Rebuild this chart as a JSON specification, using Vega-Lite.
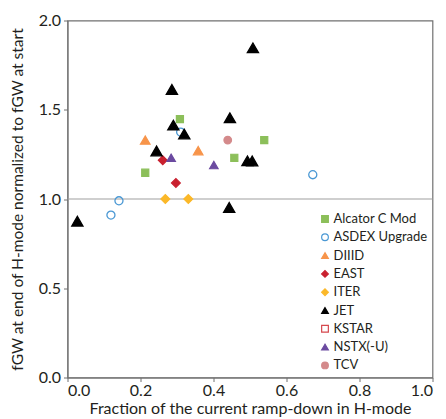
{
  "$schema": "https://vega.github.io/schema/vega-lite/v6.json",
  "autosize": {"type": "none"},
  "padding": {"left": 67.5, "top": 20.5, "right": 13.5, "bottom": 41.5},
  "width": 365,
  "height": 357,
  "config": {
    "view": {"stroke": "#707070", "strokeWidth": 1.2},
    "font": "Lato",
    "axis": {"domainColor": "#707070", "tickColor": "#707070", "labelColor": "#231f20", "titleColor": "#231f20", "labelFont": "Lato", "titleFont": "Lato", "labelFontWeight": "normal", "titleFontWeight": "normal", "grid": false},
    "legend": {"orient": "bottom-right", "offset": 5, "symbolSize": 45, "labelFontSize": 13, "labelFont": "Lato", "labelColor": "#231f20", "rowPadding": 4.3, "labelOffset": 2, "symbolStrokeWidth": 1.2}
  },
  "datasets": {
    "points": [
      {"device": "Alcator C Mod", "x": 0.308, "y": 1.448},
      {"device": "Alcator C Mod", "x": 0.539, "y": 1.330},
      {"device": "Alcator C Mod", "x": 0.457, "y": 1.231},
      {"device": "Alcator C Mod", "x": 0.213, "y": 1.147},
      {"device": "ASDEX Upgrade", "x": 0.310, "y": 1.375},
      {"device": "ASDEX Upgrade", "x": 0.141, "y": 0.990},
      {"device": "ASDEX Upgrade", "x": 0.119, "y": 0.910},
      {"device": "ASDEX Upgrade", "x": 0.672, "y": 1.136},
      {"device": "DIIID", "x": 0.213, "y": 1.330},
      {"device": "DIIID", "x": 0.358, "y": 1.271},
      {"device": "EAST", "x": 0.261, "y": 1.217},
      {"device": "EAST", "x": 0.297, "y": 1.090},
      {"device": "ITER", "x": 0.268, "y": 1.0},
      {"device": "ITER", "x": 0.331, "y": 1.0},
      {"device": "JET", "x": 0.508, "y": 1.847},
      {"device": "JET", "x": 0.286, "y": 1.614},
      {"device": "JET", "x": 0.445, "y": 1.455},
      {"device": "JET", "x": 0.290, "y": 1.414},
      {"device": "JET", "x": 0.320, "y": 1.364},
      {"device": "JET", "x": 0.244, "y": 1.269},
      {"device": "JET", "x": 0.493, "y": 1.214},
      {"device": "JET", "x": 0.506, "y": 1.213},
      {"device": "JET", "x": 0.443, "y": 0.953},
      {"device": "JET", "x": 0.027, "y": 0.876},
      {"device": "NSTX(-U)", "x": 0.284, "y": 1.231},
      {"device": "NSTX(-U)", "x": 0.401, "y": 1.190},
      {"device": "TCV", "x": 0.439, "y": 1.330}
    ]
  },
  "layer": [
    {
      "data": {"values": [{"y": 1.0}]},
      "mark": {"type": "rule", "color": "#a0a0a0", "strokeWidth": 1.2},
      "encoding": {"y": {"field": "y", "type": "quantitative", "scale": {"domain": [0, 2]}}}
    },
    {
      "data": {"name": "points"},
      "encoding": {
        "x": {"field": "x", "type": "quantitative", "scale": {"domain": [0, 1]},
          "axis": {"values": [0, 0.2, 0.4, 0.6, 0.8, 1.0], "format": ".1f", "labelFontSize": 16, "tickSize": 4, "labelPadding": 1, "title": "Fraction of the current ramp-down in H-mode", "titleFontSize": 16, "titlePadding": 2}},
        "y": {"field": "y", "type": "quantitative", "scale": {"domain": [0, 2]},
          "axis": {"values": [0, 0.5, 1.0, 1.5, 2.0], "format": ".1f", "labelFontSize": 16, "tickSize": 4, "labelPadding": 3, "title": "fGW at end of H-mode normalized to fGW at start", "titleFontSize": 15.5, "titlePadding": 13}},
        "shape": {"field": "device", "type": "nominal",
          "scale": {"domain": ["Alcator C Mod", "ASDEX Upgrade", "DIIID", "EAST", "ITER", "JET", "KSTAR", "NSTX(-U)", "TCV"],
            "range": ["square", "circle", "triangle-up", "diamond", "diamond", "triangle-up", "square", "triangle-up", "circle"]},
          "legend": {"title": null}},
        "fill": {"field": "device", "type": "nominal",
          "scale": {"domain": ["Alcator C Mod", "ASDEX Upgrade", "DIIID", "EAST", "ITER", "JET", "KSTAR", "NSTX(-U)", "TCV"],
            "range": ["#8cbf5a", "transparent", "#f7944a", "#c9202f", "#fbb829", "#000000", "transparent", "#6b4aa0", "#d48a8b"]},
          "legend": {"title": null}},
        "stroke": {"field": "device", "type": "nominal",
          "scale": {"domain": ["Alcator C Mod", "ASDEX Upgrade", "DIIID", "EAST", "ITER", "JET", "KSTAR", "NSTX(-U)", "TCV"],
            "range": ["#8cbf5a", "#4a98d4", "#f7944a", "#c9202f", "#fbb829", "#000000", "#d6484e", "#6b4aa0", "#d48a8b"]},
          "legend": {"title": null}}
      },
      "layer": [
        {"transform": [{"filter": {"field": "device", "oneOf": ["Alcator C Mod"]}}],
         "mark": {"type": "point", "filled": false, "opacity": 1, "strokeWidth": 1.2, "size": 50}},
        {"transform": [{"filter": {"field": "device", "oneOf": ["ASDEX Upgrade"]}}],
         "mark": {"type": "point", "filled": false, "opacity": 1, "strokeWidth": 1.3, "size": 65}},
        {"transform": [{"filter": {"field": "device", "oneOf": ["DIIID"]}}],
         "mark": {"type": "point", "filled": false, "opacity": 1, "strokeWidth": 1.2, "size": 92}},
        {"transform": [{"filter": {"field": "device", "oneOf": ["EAST", "ITER"]}}],
         "mark": {"type": "point", "filled": false, "opacity": 1, "strokeWidth": 1.2, "size": 78}},
        {"transform": [{"filter": {"field": "device", "oneOf": ["NSTX(-U)"]}}],
         "mark": {"type": "point", "filled": false, "opacity": 1, "strokeWidth": 1.2, "size": 72}},
        {"transform": [{"filter": {"field": "device", "oneOf": ["TCV"]}}],
         "mark": {"type": "point", "filled": false, "opacity": 1, "strokeWidth": 1.2, "size": 58}},
        {"transform": [{"filter": {"field": "device", "oneOf": ["JET"]}}],
         "mark": {"type": "point", "filled": false, "opacity": 1, "strokeWidth": 1.3, "size": 125}}
      ]
    }
  ]
}
